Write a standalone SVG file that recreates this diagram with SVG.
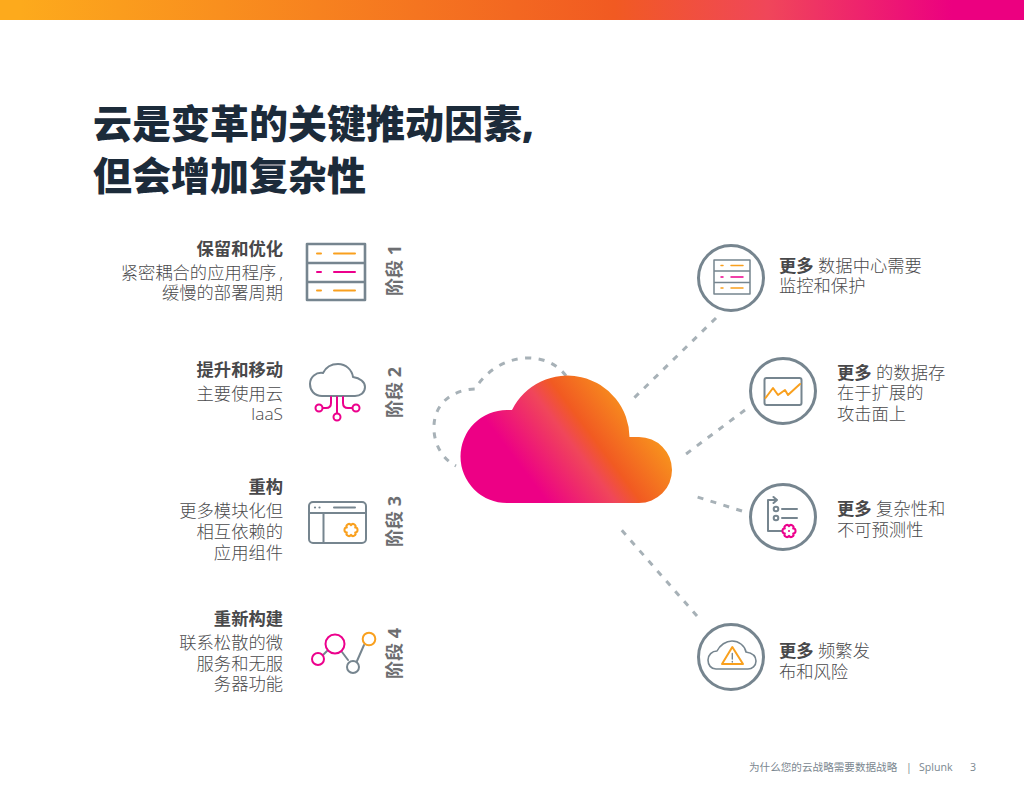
<svg xmlns="http://www.w3.org/2000/svg" width="1024" height="791" viewBox="0 0 1024 791">
<style>
text{font-family:"Open Sans","Noto Sans CJK SC",sans-serif}
.h{font-size:39px;font-weight:900;fill:#1c2b3a}
.b{font-size:17.300px;fill:#4a4a4c;font-weight:300}
.t{font-size:17.300px;font-weight:700;fill:#48484a}
.l{text-anchor:end}
.p{font-size:18px;font-weight:700;fill:#6d6e71}
.f{font-size:10.600px;fill:#7b8790}
.g{fill:none;stroke:#76858f;stroke-width:2.600;stroke-linejoin:round;stroke-linecap:round}
.g2{fill:none;stroke:#76858f;stroke-width:2;stroke-linejoin:round;stroke-linecap:round}
.c{fill:none;stroke:#76858f;stroke-width:3}
.o{fill:none;stroke:#f9a01e;stroke-width:2;stroke-linejoin:round;stroke-linecap:round}
.m{fill:none;stroke:#ec008c;stroke-width:2;stroke-linejoin:round;stroke-linecap:round}
.d{fill:none;stroke:#a7b1b7;stroke-width:3;stroke-dasharray:6 7.500}
</style>
<defs>
<linearGradient id="bar" x1="0" y1="0" x2="1024" y2="0" gradientUnits="userSpaceOnUse"><stop offset="0.02" stop-color="#fdaa1c"/><stop offset="0.6" stop-color="#f15a22"/><stop offset="0.75" stop-color="#f0465a"/><stop offset="0.93" stop-color="#ec0080"/></linearGradient>
<linearGradient id="cl" x1="518" y1="463" x2="622" y2="385" gradientUnits="userSpaceOnUse"><stop offset="0" stop-color="#ed0085"/><stop offset="0.42" stop-color="#f0465a"/><stop offset="0.58" stop-color="#f15a22"/><stop offset="1" stop-color="#f8961d"/></linearGradient>
<path id="gear" d="M0 -4.800A2.400 2.400 0 0 1 4.160 -2.400A2.400 2.400 0 0 1 4.160 2.400A2.400 2.400 0 0 1 0 4.800A2.400 2.400 0 0 1 -4.160 2.400A2.400 2.400 0 0 1 -4.160 -2.400A2.400 2.400 0 0 1 0 -4.800Z"/>
</defs>
<rect id="top-bar" width="1024" height="20" fill="url(#bar)"/>
<g id="title"><text class="h" x="93" y="138">云是变革的关键推动因素,</text><text class="h" x="93" y="190">但会增加复杂性</text></g>
<g id="connectors">
<path class="d" d="M566 376C558 365 545 358 528 358C505 358 485 372 475 389C450 390 435 405 434 425C433 440 440 458 456 466"/>
<path class="d" d="M716 318L632 400"/>
<path class="d" d="M745 410L686 454"/>
<path class="d" d="M742 511L691 495"/>
<path class="d" d="M697 616L618 526"/>
</g>
<g id="cloud"><path fill="url(#cl)" d="M507 503A46.500 46.500 0 0 1 507 410L512 410A62 62 0 0 1 629.500 437L639 437A33 33 0 0 1 639 503Z"/></g>
<g id="stage-1">
<text class="t l" x="283" y="255">保留和优化</text><text class="b l" x="283" y="279">紧密耦合的应用程序<tspan dx="3">,</tspan></text><text class="b l" x="283" y="299">缓慢的部署周期</text>
<path class="g" d="M307 244H365V300H307ZM307 263H365M307 282H365"/>
<path class="o" d="M317 253.500H321M334 253.500H355M334 290.500H355M317 290.500H321"/><path class="m" d="M317 272H321M334 272H355"/>
<text class="p" transform="translate(401 296) rotate(-90)">阶段 1</text>
</g>
<g id="stage-2">
<text class="t l" x="283" y="376">提升和移动</text><text class="b l" x="283" y="400">主要使用云</text><text class="b l" x="283" y="420">IaaS</text>
<path class="g2" d="M322 396C314 396 310 390 310 384C310 377 316 372 323 373C326 367 332 364 338 364C346 364 352 370 353 377C360 378 365 382 365 387C365 393 360 396 355 396Z"/>
<path class="m" d="M331 397V403Q331 408 326 408H323M337 397V413M343 397V403Q343 408 348 408H352"/>
<circle class="m" cx="319" cy="408" r="3.500"/><circle class="m" cx="337" cy="417" r="3.500"/><circle class="m" cx="356" cy="408" r="3.500"/>
<text class="p" transform="translate(401 418) rotate(-90)">阶段 2</text>
</g>
<g id="stage-3">
<text class="t l" x="283" y="493">重构</text><text class="b l" x="283" y="517">更多模块化但</text><text class="b l" x="283" y="538">相互依赖的</text><text class="b l" x="283" y="559">应用组件</text>
<rect class="g2" x="309" y="502" width="57" height="41" rx="4"/><path class="g2" d="M309 513H366M323.500 513V543M334 507.500H355"/>
<circle cx="315" cy="507.500" r="1.100" fill="#76858f"/><circle cx="319.500" cy="507.500" r="1.100" fill="#76858f"/>
<use class="o" href="#gear" x="351" y="530"/>
<text class="p" transform="translate(401 547) rotate(-90)">阶段 3</text>
</g>
<g id="stage-4">
<text class="t l" x="283" y="625">重新构建</text><text class="b l" x="283" y="649">联系松散的微</text><text class="b l" x="283" y="670">服务和无服</text><text class="b l" x="283" y="690">务器功能</text>
<path class="g2" d="M323 655L327 651M342 652L348 660M357 661L364 645"/>
<circle class="m" cx="318" cy="659" r="6"/><circle class="m" cx="335" cy="644" r="9.500"/><circle class="g2" cx="353" cy="667" r="6"/><circle class="o" cx="369" cy="639" r="6.300"/>
<text class="p" transform="translate(401 679) rotate(-90)">阶段 4</text>
</g>
<g id="more-1">
<circle class="c" cx="731" cy="278" r="32.500"/>
<path class="g2" d="M714 260H750V294H714ZM714 271H750M714 282.500H750" style="stroke-width:1.500"/>
<path class="o" d="M721 265.500H723M731 265.500H743M721 288H723M731 288H743" style="stroke-width:1.500"/><path class="m" d="M721 277H723M731 277H743" style="stroke-width:1.500"/>
<text class="b" x="779" y="271.500"><tspan class="t">更多</tspan> 数据中心需要</text><text class="b" x="779" y="291.500">监控和保护</text>
</g>
<g id="more-2">
<circle class="c" cx="783" cy="391" r="32.500"/>
<rect class="g2" x="764.500" y="378" width="37" height="27" rx="2"/>
<path class="o" d="M765.500 398L773 388L778 395L785 390L788 395L800 384"/>
<text class="b" x="837" y="379"><tspan class="t">更多</tspan> 的数据存</text><text class="b" x="837" y="399">在于扩展的</text><text class="b" x="837" y="420">攻击面上</text>
</g>
<g id="more-3">
<circle class="c" cx="783" cy="517" r="32.500"/>
<path class="g2" d="M777 500H768V531H782M773.500 497L777 500L773.500 503M782 509H797M782 518H797"/>
<circle class="g2" cx="776" cy="509" r="2.300"/><circle class="g2" cx="776" cy="518" r="2.300"/>
<use class="m" href="#gear" x="789" y="531"/>
<circle cx="789" cy="531" r="1" fill="#ec008c"/>
<text class="b" x="837" y="515"><tspan class="t">更多</tspan> 复杂性和</text><text class="b" x="837" y="536">不可预测性</text>
</g>
<g id="more-4">
<circle class="c" cx="731" cy="657" r="32.500"/>
<path class="g2" d="M716 669C711 669 708 665 708 660C708 655 712 651 717 651C720 645 726 641 732 641C739 641 745 646 746 652C752 653 756 656 756 661C756 666 752 669 748 669Z" style="stroke-width:1.600"/>
<path d="M732.300 647L722 664H743Z" fill="#fff" stroke="#f9a01e" stroke-width="2" stroke-linejoin="round"/>
<path class="g2" d="M732.300 653.500V659M732.300 661.500V662" style="stroke-width:1.400"/>
<text class="b" x="779" y="657"><tspan class="t">更多</tspan> 频繁发</text><text class="b" x="779" y="678">布和风险</text>
</g>
<g id="footer"><text class="f" x="749" y="771">为什么您的云战略需要数据战略</text><text class="f" x="906" y="771">|</text><text class="f" x="919" y="771">Splunk</text><text class="f" x="970" y="771">3</text></g>
</svg>
